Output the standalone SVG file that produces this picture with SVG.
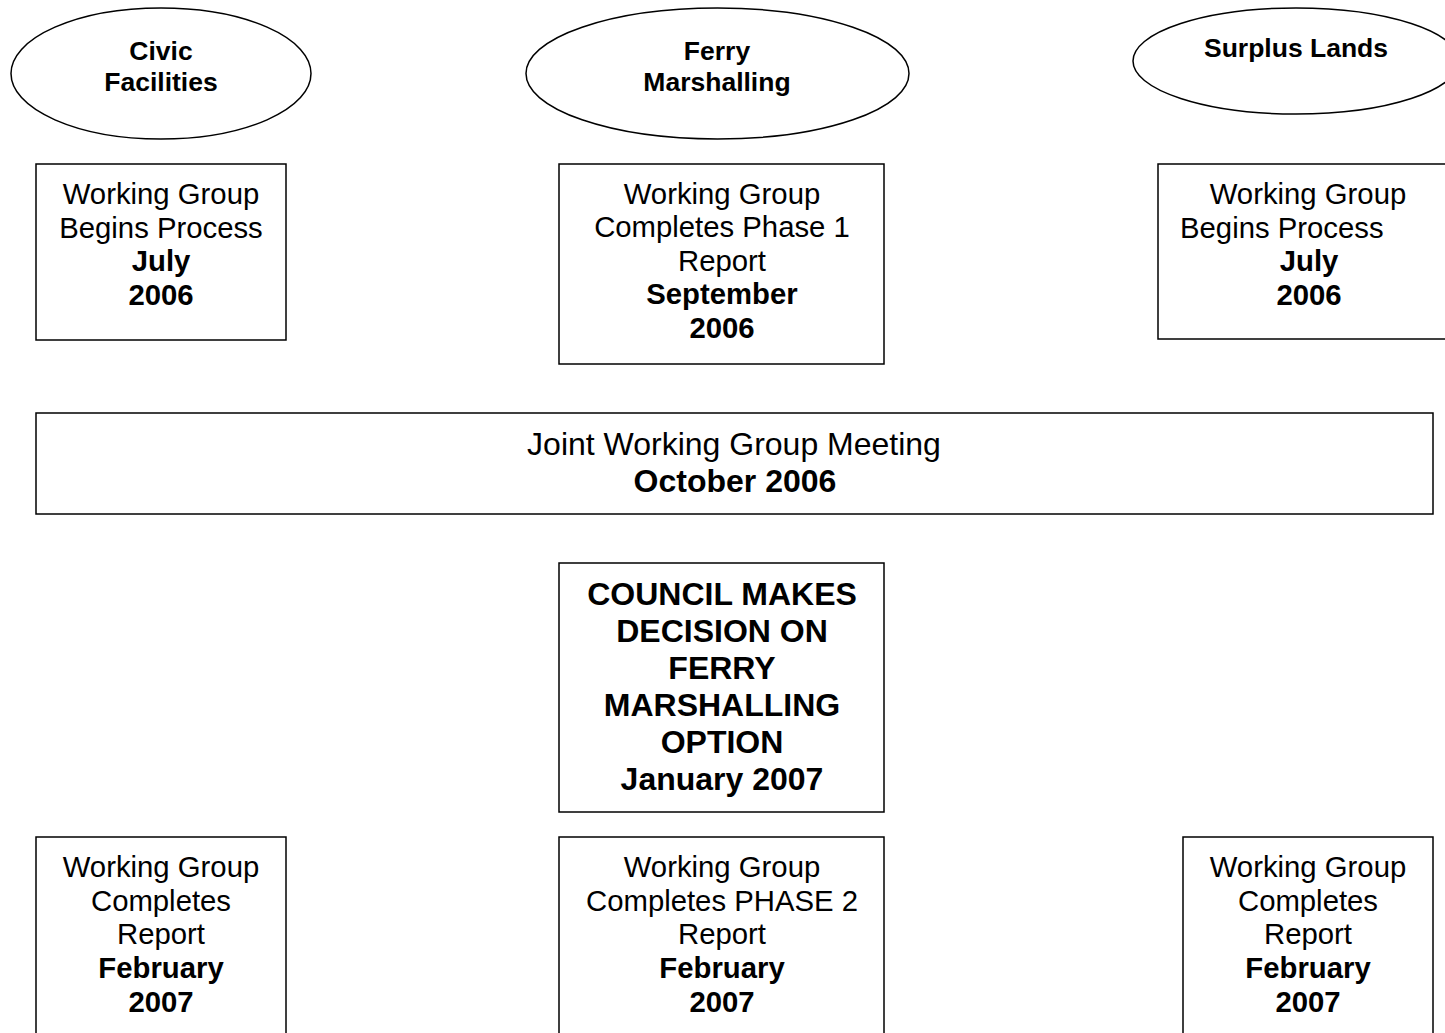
<svg xmlns="http://www.w3.org/2000/svg" width="1445" height="1033" viewBox="0 0 1445 1033">
<style>
.s{fill:#fff;stroke:#000;stroke-width:1.5}
text{font-family:"Liberation Sans",Arial,sans-serif;fill:#000;text-anchor:middle}
.e{font-size:26.5px;font-weight:bold}
.n{font-size:29.3px}
.b{font-size:29.3px;font-weight:bold}
.n2{font-size:32px}
.b2{font-size:32px;font-weight:bold}
</style>
<rect width="1445" height="1033" fill="#fff"/>
<g id="connectors"></g>
<g id="civic">
<ellipse class="s" cx="161" cy="73.5" rx="150" ry="65.5"/>
<text class="e" x="161" y="60">Civic</text>
<text class="e" x="161" y="91">Facilities</text>
</g>
<g id="ferry">
<ellipse class="s" cx="717.5" cy="73.5" rx="191.5" ry="65.5"/>
<text class="e" x="717" y="60">Ferry</text>
<text class="e" x="717" y="91">Marshalling</text>
</g>
<g id="surplus">
<ellipse class="s" cx="1296" cy="61" rx="163" ry="53"/>
<text class="e" x="1296" y="57">Surplus Lands</text>
</g>
<g id="civic-begin">
<rect class="s" x="36" y="164" width="250" height="176"/>
<text class="n" x="161" y="203.5">Working Group</text>
<text class="n" x="161" y="237.5">Begins Process</text>
<text class="b" x="161" y="270.5">July</text>
<text class="b" x="161" y="305">2006</text>
</g>
<g id="ferry-phase1">
<rect class="s" x="559" y="164" width="325" height="200"/>
<text class="n" x="722" y="203.5">Working Group</text>
<text class="n" x="722" y="237">Completes Phase 1</text>
<text class="n" x="722" y="270.5">Report</text>
<text class="b" x="722" y="304">September</text>
<text class="b" x="722" y="338">2006</text>
</g>
<g id="surplus-begin">
<rect class="s" x="1158" y="164" width="300" height="175"/>
<text class="n" x="1308" y="203.5">Working Group</text>
<text class="n" x="1180" y="237.5" style="text-anchor:start">Begins Process</text>
<text class="b" x="1309" y="270.5">July</text>
<text class="b" x="1309" y="305">2006</text>
</g>
<g id="joint">
<rect class="s" x="36" y="413" width="1397" height="101"/>
<text class="n2" x="734" y="455">Joint Working Group Meeting</text>
<text class="b2" x="735" y="492">October 2006</text>
</g>
<g id="council">
<rect class="s" x="559" y="563" width="325" height="249"/>
<text class="b2" x="722" y="604.5">COUNCIL MAKES</text>
<text class="b2" x="722" y="641.5">DECISION ON</text>
<text class="b2" x="722" y="678.5">FERRY</text>
<text class="b2" x="722" y="715.5">MARSHALLING</text>
<text class="b2" x="722" y="752.5">OPTION</text>
<text class="b2" x="722" y="789.5">January 2007</text>
</g>
<g id="civic-report">
<rect class="s" x="36" y="837" width="250" height="210"/>
<text class="n" x="161" y="876.5">Working Group</text>
<text class="n" x="161" y="910.5">Completes</text>
<text class="n" x="161" y="943.5">Report</text>
<text class="b" x="161" y="977.5">February</text>
<text class="b" x="161" y="1011.5">2007</text>
</g>
<g id="ferry-phase2">
<rect class="s" x="559" y="837" width="325" height="210"/>
<text class="n" x="722" y="876.5">Working Group</text>
<text class="n" x="722" y="910.5">Completes PHASE 2</text>
<text class="n" x="722" y="943.5">Report</text>
<text class="b" x="722" y="977.5">February</text>
<text class="b" x="722" y="1011.5">2007</text>
</g>
<g id="surplus-report">
<rect class="s" x="1183" y="837" width="250" height="210"/>
<text class="n" x="1308" y="876.5">Working Group</text>
<text class="n" x="1308" y="910.5">Completes</text>
<text class="n" x="1308" y="943.5">Report</text>
<text class="b" x="1308" y="977.5">February</text>
<text class="b" x="1308" y="1011.5">2007</text>
</g>
</svg>
